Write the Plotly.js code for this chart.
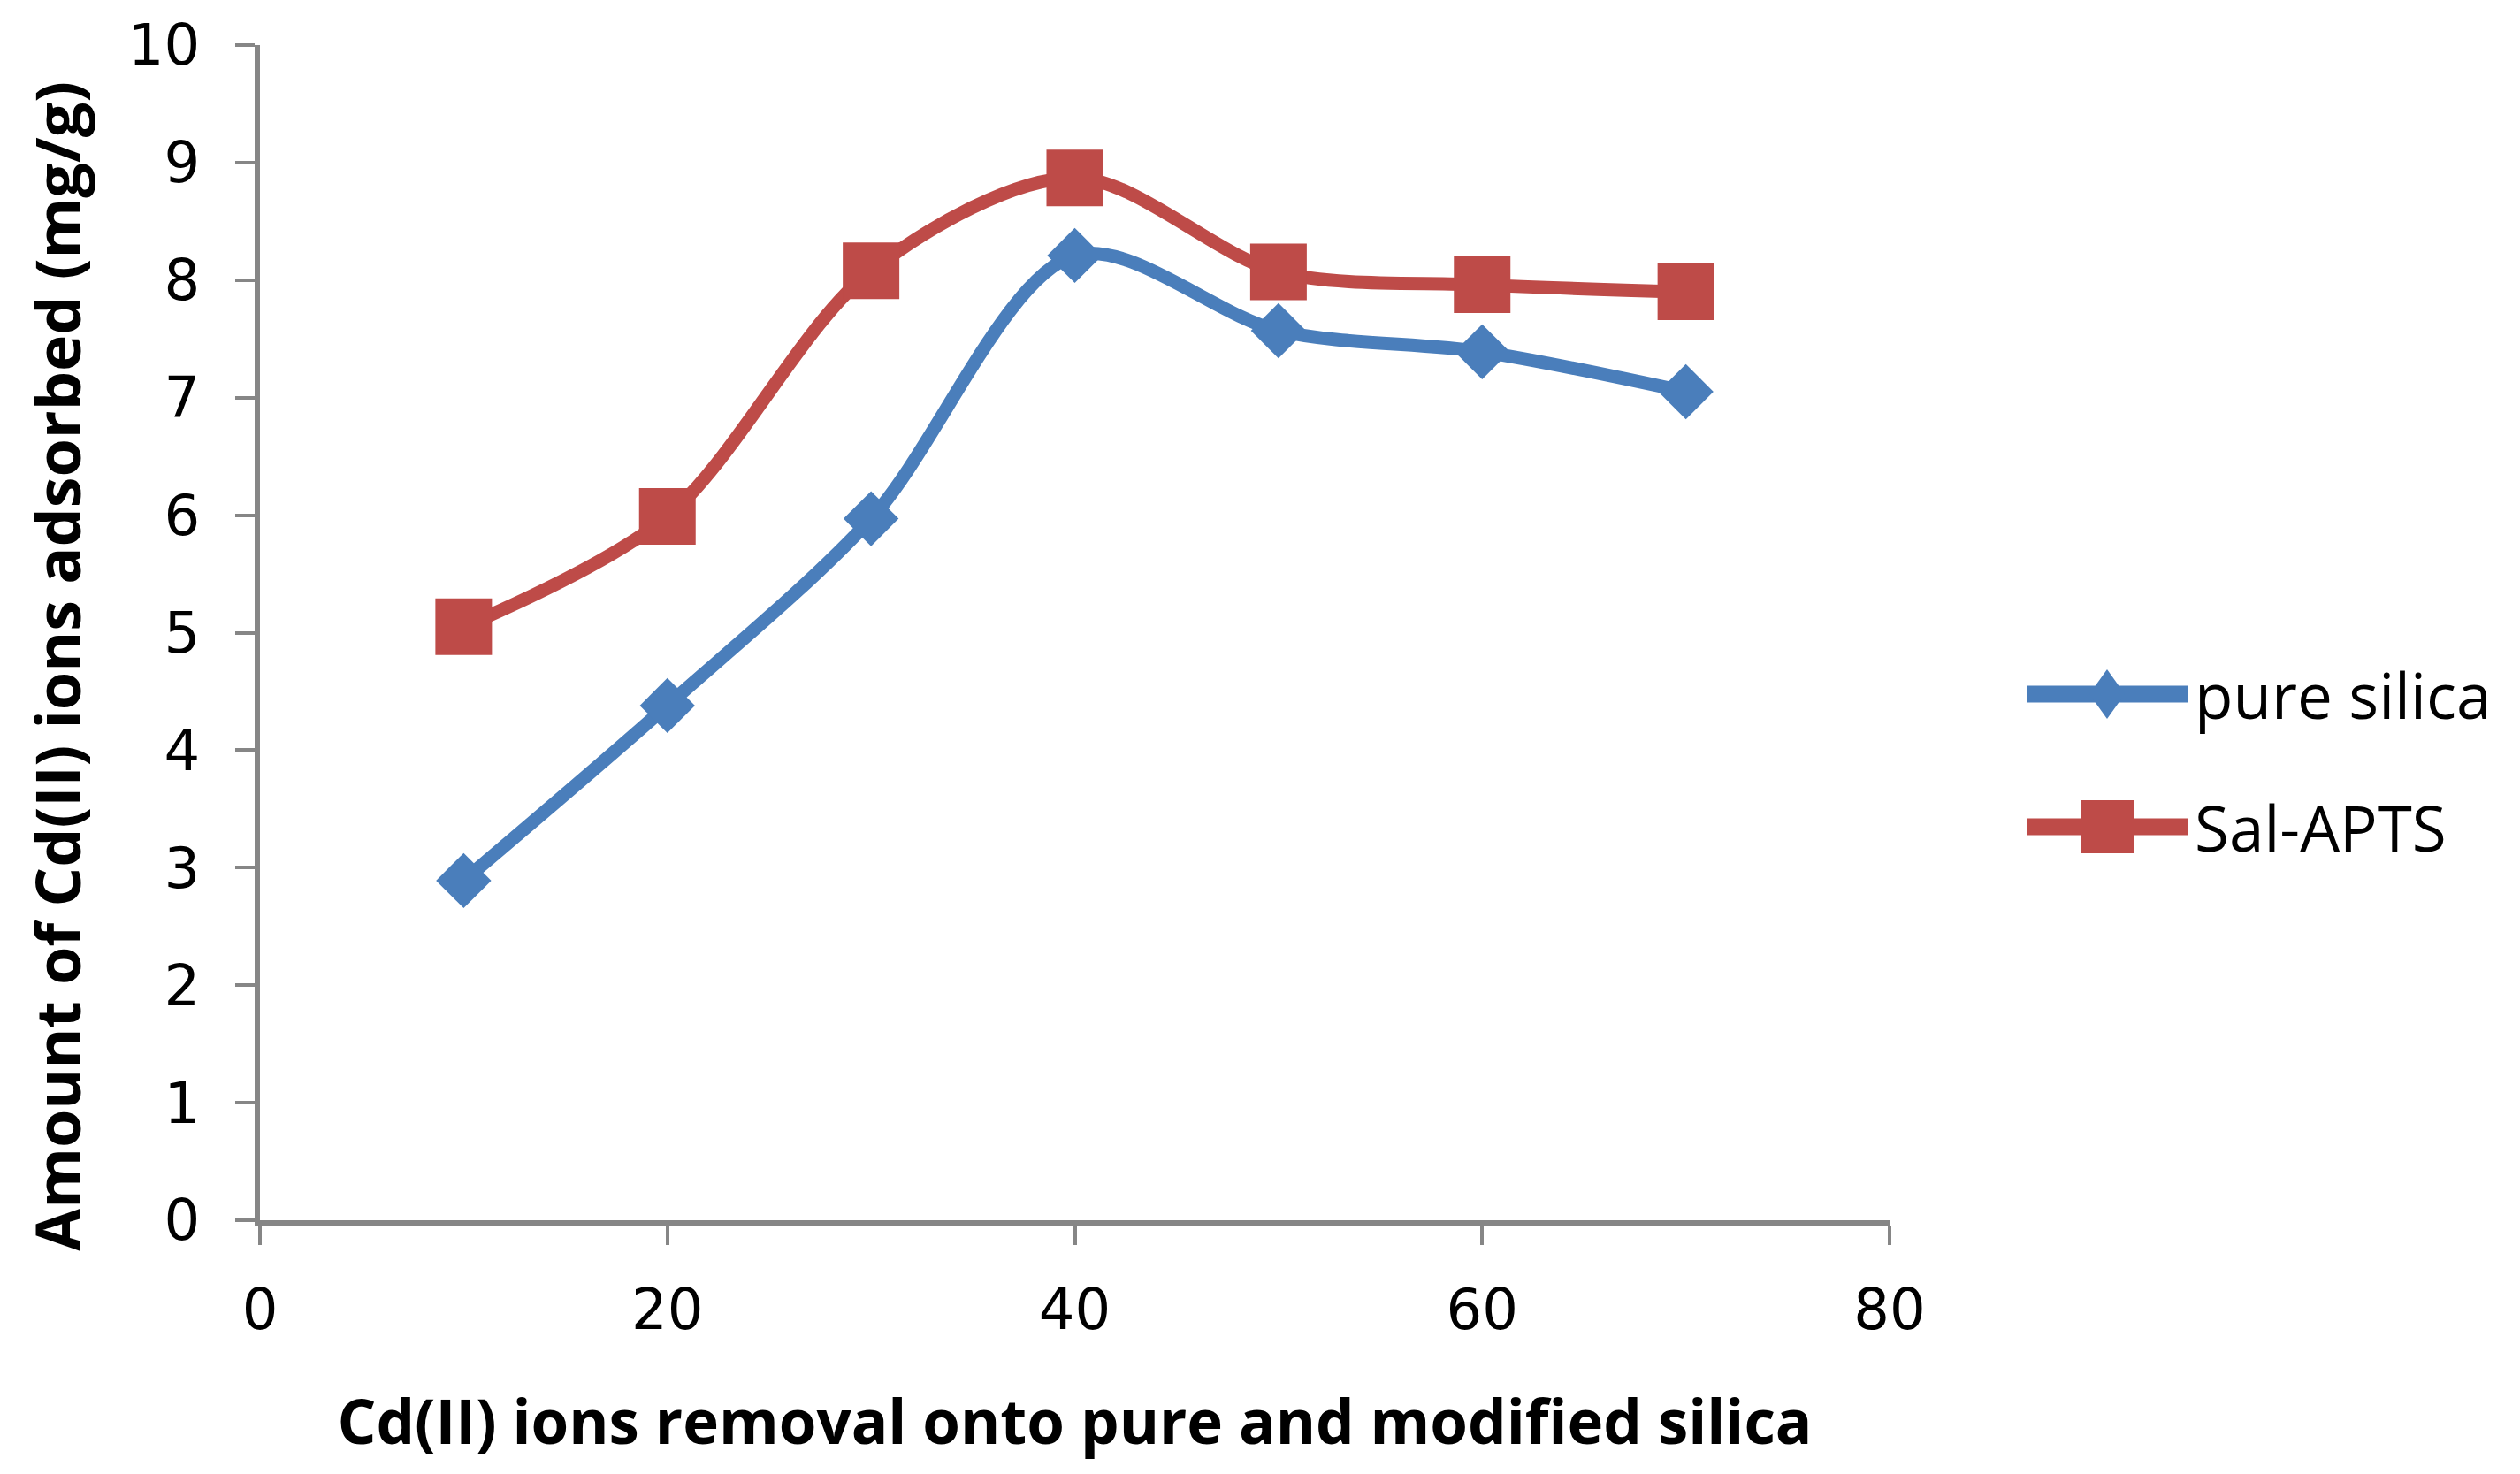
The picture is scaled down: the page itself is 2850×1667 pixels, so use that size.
<!DOCTYPE html>
<html>
<head>
<meta charset="utf-8">
<script src="https://cdn.plot.ly/plotly-3.0.1.min.js"></script>
<style>html,body{margin:0;padding:0;background:#fff;}#chart{width:2850px;height:1667px;}</style>
</head>
<body>
<div id="chart"></div>
<script>
// ---- data ----
const xValues = [10, 20, 30, 40, 50, 60, 70];
const pureSilica = [2.89, 4.38, 5.97, 8.21, 7.57, 7.39, 7.05];
const salAPTS = [5.05, 5.99, 8.08, 8.87, 8.07, 7.96, 7.90];
const seriesNames = ["pure silica", "Sal-APTS"];
const xTickVals = [0, 20, 40, 60, 80];
const yTickVals = [0, 1, 2, 3, 4, 5, 6, 7, 8, 9, 10];
const xTitle = "Cd(II) ions removal onto pure and modified silica";
const yTitle = "Amount of Cd(II) ions adsorbed (mg/g)";

// ---- layout geometry (pixels) ----
const W = 2850, H = 1667;
const L = 294, R = 2137, T = 51, B = 1380;
const px2x = p => (p - L) / (R - L);
const py2y = p => (B - p) / (B - T);

const blue = "#4A7EBB", red = "#BE4B48", axisGray = "#868686";

const traces = [
  {x: xValues, y: pureSilica, name: seriesNames[0], type: "scatter", mode: "lines+markers",
   line: {color: blue, width: 15, shape: "spline", smoothing: 0.9},
   marker: {symbol: "diamond", size: 48, color: blue}, showlegend: false},
  {x: xValues, y: salAPTS, name: seriesNames[1], type: "scatter", mode: "lines+markers",
   line: {color: red, width: 15, shape: "spline", smoothing: 0.9},
   marker: {symbol: "square", size: 64, color: red}, showlegend: false}
];

// custom legend (shapes + annotations)
const legY = [785, 935];
const legX0 = 2292, legX1 = 2474, legXm = (legX0 + legX1) / 2, legText = 2480;
const shapes = [];
const annotations = [];
[blue, red].forEach((c, i) => {
  shapes.push({type: "line", xref: "paper", yref: "paper",
    x0: px2x(legX0), x1: px2x(legX1), y0: py2y(legY[i]), y1: py2y(legY[i]),
    line: {color: c, width: 19}});
  annotations.push({xref: "paper", yref: "paper", x: px2x(legText), y: py2y(legY[i]),
    xanchor: "left", yanchor: "middle", showarrow: false, text: seriesNames[i],
    font: {family: "Open Sans", size: 71, color: "#000"}});
});
// diamond
{
  const cx = legXm, cy = legY[0], hw = 20, hh = 28;
  shapes.push({type: "path", xref: "paper", yref: "paper",
    path: `M ${px2x(cx)} ${py2y(cy - hh)} L ${px2x(cx + hw)} ${py2y(cy)} L ${px2x(cx)} ${py2y(cy + hh)} L ${px2x(cx - hw)} ${py2y(cy)} Z`,
    fillcolor: blue, line: {width: 0}});
}
// square
{
  const cx = legXm, cy = legY[1], h = 30;
  shapes.push({type: "rect", xref: "paper", yref: "paper",
    x0: px2x(cx - h), x1: px2x(cx + h), y0: py2y(cy + h), y1: py2y(cy - h),
    fillcolor: red, line: {width: 0}});
}
// y axis title (placed as rotated annotation to match the reference offset)
annotations.push({xref: "paper", yref: "paper", x: px2x(64), y: py2y(754),
  xanchor: "center", yanchor: "middle", showarrow: false, textangle: -90, text: yTitle,
  font: {family: "Open Sans", size: 70, color: "#000", weight: "bold"}});

const tickFont = {family: "DejaVu Sans", size: 64, color: "#000"};
const layout = {
  width: W, height: H,
  margin: {l: L, r: W - R, t: T, b: H - B},
  paper_bgcolor: "#fff", plot_bgcolor: "#fff",
  showlegend: false,
  xaxis: {
    range: [0, 80], tickvals: xTickVals, ticktext: xTickVals.map(String),
    showgrid: false, zeroline: false, showline: true, linecolor: axisGray, linewidth: 6,
    ticks: "outside", ticklen: 22, tickwidth: 4, tickcolor: axisGray,
    ticklabelstandoff: 18, tickfont: tickFont,
    title: {text: xTitle, font: {family: "Open Sans", size: 69, color: "#000", weight: "bold"}, standoff: 70}
  },
  yaxis: {
    range: [0, 10], tickvals: yTickVals, ticktext: yTickVals.map(String),
    showgrid: false, zeroline: false, showline: true, linecolor: axisGray, linewidth: 6,
    ticks: "outside", ticklen: 22, tickwidth: 4, tickcolor: axisGray,
    ticklabelstandoff: 27, tickfont: tickFont
  },
  shapes: shapes,
  annotations: annotations
};

Plotly.newPlot("chart", traces, layout, {displayModeBar: false, staticPlot: true});
</script>
</body>
</html>
